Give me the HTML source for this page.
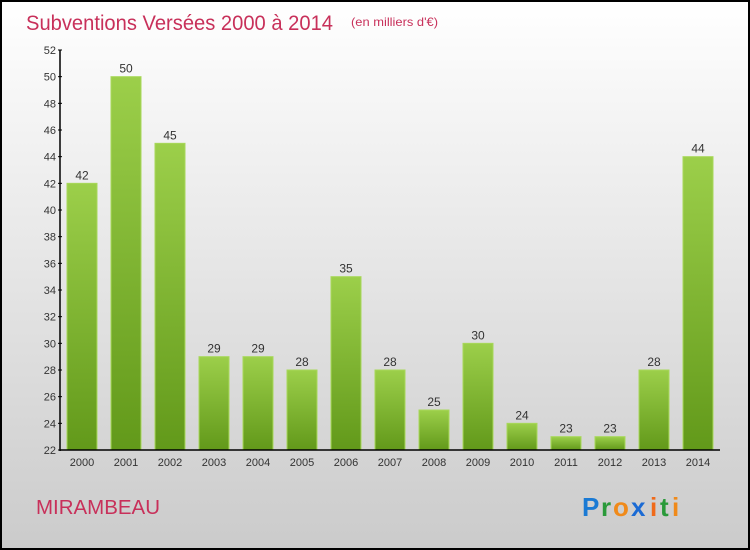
<!DOCTYPE html>
<html><head><meta charset="utf-8"><style>
body{margin:0}
svg{display:block;font-family:"Liberation Sans",sans-serif}
</style></head><body>
<svg id="c" width="750" height="550">
<defs>
<linearGradient id="bg" x1="0" y1="0" x2="0" y2="1"><stop offset="0" stop-color="#ffffff"/><stop offset="1" stop-color="#cbcbcb"/></linearGradient>
<linearGradient id="bar" x1="0" y1="0" x2="0" y2="1"><stop offset="0" stop-color="#9ccf4a"/><stop offset="1" stop-color="#62991a"/></linearGradient>
</defs>
<rect x="1" y="1" width="748" height="548" fill="url(#bg)" stroke="#000" stroke-width="2"/>
<text x="26" y="30" font-size="21" fill="#c8305a" textLength="307" lengthAdjust="spacingAndGlyphs">Subventions Versées 2000 à 2014</text>
<text x="351" y="26" font-size="12" fill="#c8305a" textLength="87" lengthAdjust="spacingAndGlyphs">(en milliers d'€)</text>
<text x="36" y="514" font-size="20" fill="#c8305a" textLength="124" lengthAdjust="spacingAndGlyphs">MIRAMBEAU</text>
<g font-size="26" font-weight="bold">
<text x="582" y="516" fill="#1a7ad4">P</text><text x="601" y="516" fill="#2a9a3a">r</text><text x="613" y="516" fill="#f08a1a">o</text><text x="631" y="516" fill="#1a6ad4">x</text><text x="650" y="516" fill="#f06a1a">i</text><text x="660" y="516" fill="#2a9a3a">t</text><text x="672" y="516" fill="#f08a1a">i</text>
</g>
<g id="g"></g>
</svg>
<script>
const categories=["2000","2001","2002","2003","2004","2005","2006","2007","2008","2009","2010","2011","2012","2013","2014"];
const values=[42,50,45,29,29,28,35,28,25,30,24,23,23,28,44];
const yTicks=[22,24,26,28,30,32,34,36,38,40,42,44,46,48,50,52];
const NS="http://www.w3.org/2000/svg";
const g=document.getElementById('g');
const y=v=>450-(v-22)*400/30;
const x=i=>82+i*44;
function mk(t,a,txt){const e=document.createElementNS(NS,t);for(const k in a)e.setAttribute(k,a[k]);if(txt!==undefined)e.textContent=txt;g.appendChild(e);return e;}
values.forEach((v,i)=>{
 const r=mk('rect',{x:x(i)-15,y:y(v),width:30,height:450-y(v),fill:'url(#bar)',stroke:'#a8d85a','stroke-width':1});
 
 
 const l=mk('text',{x:x(i),y:y(v)-4,'font-size':12,'text-anchor':'middle',fill:'#333'},v);
 
 
 const c=mk('text',{x:x(i),y:466,'font-size':11,'text-anchor':'middle',fill:'#333'},categories[i]);
 
 
});
yTicks.forEach(t=>{
 const tl=mk('text',{x:56,y:y(t)+4,'font-size':11,'text-anchor':'end',fill:'#333'},t);
 
 
 mk('line',{x1:58,x2:62,y1:y(t),y2:y(t),stroke:'#000'});
});
const ya=mk('line',{x1:60,x2:60,y1:50,y2:451,stroke:'#000','stroke-width':1.5});


const xa=mk('line',{x1:60,x2:720,y1:450,y2:450,stroke:'#000','stroke-width':1.5});


</script>
</body></html>
